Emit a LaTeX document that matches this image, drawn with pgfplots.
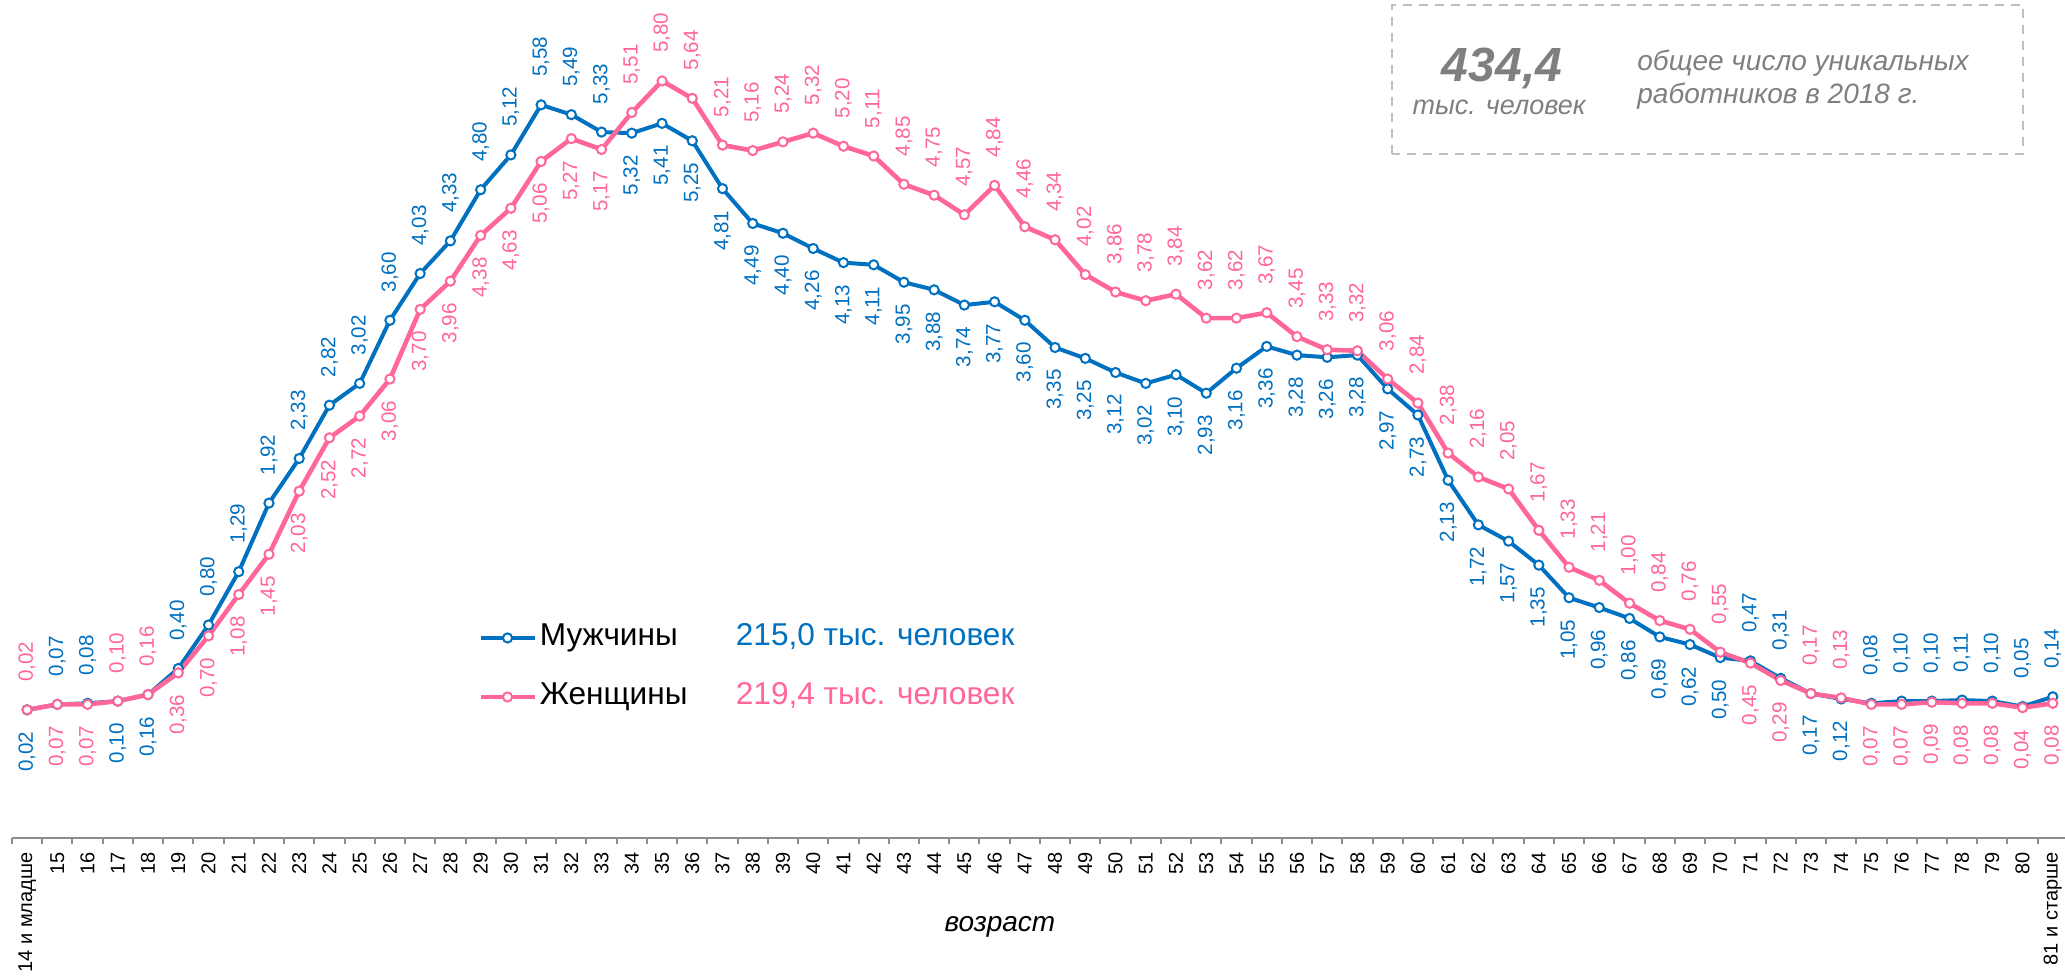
\documentclass[border=0pt]{standalone}
\usepackage{fontspec}
\setmainfont{Liberation Sans}
\usepackage{pgfplots}
\pgfplotsset{compat=1.18}
\usepackage{pgfplotstable}
\definecolor{mblue}{HTML}{0070C0}
\definecolor{wpink}{HTML}{FF6699}
\definecolor{boxgray}{HTML}{7F7F7F}
\definecolor{dashgray}{HTML}{BFBFBF}
\definecolor{axisgray}{HTML}{8C8C8C}

\pgfplotstableread{
x m w
0 0.02 0.02
1 0.07 0.07
2 0.08 0.07
3 0.10 0.10
4 0.16 0.16
5 0.40 0.36
6 0.80 0.70
7 1.29 1.08
8 1.92 1.45
9 2.33 2.03
10 2.82 2.52
11 3.02 2.72
12 3.60 3.06
13 4.03 3.70
14 4.33 3.96
15 4.80 4.38
16 5.12 4.63
17 5.58 5.06
18 5.49 5.27
19 5.33 5.17
20 5.32 5.51
21 5.41 5.80
22 5.25 5.64
23 4.81 5.21
24 4.49 5.16
25 4.40 5.24
26 4.26 5.32
27 4.13 5.20
28 4.11 5.11
29 3.95 4.85
30 3.88 4.75
31 3.74 4.57
32 3.77 4.84
33 3.60 4.46
34 3.35 4.34
35 3.25 4.02
36 3.12 3.86
37 3.02 3.78
38 3.10 3.84
39 2.93 3.62
40 3.16 3.62
41 3.36 3.67
42 3.28 3.45
43 3.26 3.33
44 3.28 3.32
45 2.97 3.06
46 2.73 2.84
47 2.13 2.38
48 1.72 2.16
49 1.57 2.05
50 1.35 1.67
51 1.05 1.33
52 0.96 1.21
53 0.86 1.00
54 0.69 0.84
55 0.62 0.76
56 0.50 0.55
57 0.47 0.45
58 0.31 0.29
59 0.17 0.17
60 0.12 0.13
61 0.08 0.07
62 0.10 0.07
63 0.10 0.09
64 0.11 0.08
65 0.10 0.08
66 0.05 0.04
67 0.14 0.08
}\data

\pgfplotsset{
  setA/.style={skip coords between index={0}{1}, skip coords between index={3}{5},
               skip coords between index={20}{57}, skip coords between index={59}{61}},
  setB/.style={skip coords between index={1}{3}, skip coords between index={5}{20},
               skip coords between index={57}{59}, skip coords between index={61}{68}},
  lblup/.style={forget plot, draw=none, mark=none, nodes near coords,
    every node near coord/.append style={font=\fontsize{10.3}{12}\selectfont, text=#1, rotate=90, inner sep=0pt, anchor=west, outer xsep=14pt}},
  lbldown/.style={forget plot, draw=none, mark=none, nodes near coords,
    every node near coord/.append style={font=\fontsize{10.3}{12}\selectfont, text=#1, rotate=90, inner sep=0pt, anchor=east, outer xsep=11pt}},
}

\begin{document}
\begin{tikzpicture}
\begin{axis}[
  at={(6pt,68.5pt)}, anchor=south west,
  scale only axis, width=1028pt, height=419pt,
  xmin=-0.5, xmax=67.5, ymin=-1.158, ymax=6.544,
  axis x line*=bottom, axis y line=none,
  x axis line style={draw=axisgray, line width=1pt, -},
  xtick={0,...,67},
  xticklabels={14 и младше,15,16,17,18,19,20,21,22,23,24,25,26,27,28,29,30,31,32,33,34,35,36,37,38,39,40,41,42,43,44,45,46,47,48,49,50,51,52,53,54,55,56,57,58,59,60,61,62,63,64,65,66,67,68,69,70,71,72,73,74,75,76,77,78,79,80,81 и старше},
  major tick length=0pt,
  minor xtick={-0.5,0.5,...,67.5},
  minor tick length=3pt, tick align=outside,
  minor tick style={draw=axisgray, line width=1pt},
  xticklabel style={font=\fontsize{10}{12}\selectfont, yshift=-7pt, rotate=90, anchor=east, inner sep=0pt},
  xlabel={возраст},
  xlabel style={at={(axis description cs:0.4805,-0.1062)}, anchor=center, font=\itshape\fontsize{14}{16}\selectfont},
  clip=false,
  /pgf/number format/.cd, fixed, fixed zerofill, precision=2, use comma, assume math mode=true,
  /pgfplots/.cd,
  legend style={at={(axis description cs:0.2266,0.2035)}, anchor=west, draw=none, fill=none, inner sep=0pt,
    row sep=11.5pt, font=\fontsize{15.8}{18}\selectfont,
    nodes={inner sep=1.5pt, text height=11.5pt, text depth=3.5pt},
    /tikz/every even column/.append style={column sep=0pt}},
  legend cell align=left,
  legend image code/.code={\draw[mark repeat=2,mark phase=2] plot coordinates {(0pt,0pt) (13.5pt,0pt) (27pt,0pt)};},
]
\addplot[mblue, line width=2pt, mark=*, mark size=2.3pt, mark options={fill=white, draw=mblue, line width=1pt, solid}]
  table[x=x, y=m]{\data};
\addlegendentry{\makebox[98pt][l]{Мужчины}\textcolor{mblue}{215,0 тыс. человек}}
\addplot[wpink, line width=2.3pt, mark=*, mark size=2.3pt, mark options={fill=white, draw=wpink, line width=1pt, solid}]
  table[x=x, y=w]{\data};
\addlegendentry{\makebox[98pt][l]{Женщины}\textcolor{wpink}{219,4 тыс. человек}}

\addplot[lblup=mblue, setA] table[x=x, y=m]{\data};
\addplot[lbldown=mblue, setB] table[x=x, y=m]{\data};
\addplot[lblup=wpink, setB] table[x=x, y=w]{\data};
\addplot[lbldown=wpink, setA] table[x=x, y=w]{\data};
\end{axis}

\draw[dashgray, line width=1pt, dash pattern=on 4.7pt off 3.3pt] (696pt,410.5pt) rectangle (1011.5pt,485pt);
\node[text=boxgray, font=\bfseries\itshape\fontsize{24}{28}\selectfont, anchor=base, inner sep=0pt] at (751pt,446.5pt) {434,4};
\node[text=boxgray, font=\itshape\fontsize{13.5}{16}\selectfont, anchor=base, inner sep=0pt] at (749.5pt,430pt) {тыс. человек};
\node[text=boxgray, font=\itshape\fontsize{14}{16}\selectfont, anchor=base west, inner sep=0pt] at (818.5pt,452pt) {общее число уникальных};
\node[text=boxgray, font=\itshape\fontsize{14}{16}\selectfont, anchor=base west, inner sep=0pt] at (818.5pt,435.5pt) {работников в 2018 г.};

\pgfresetboundingbox
\path[use as bounding box] (0pt,0pt) rectangle (1032.5pt,487.5pt);
\end{tikzpicture}
\end{document}
